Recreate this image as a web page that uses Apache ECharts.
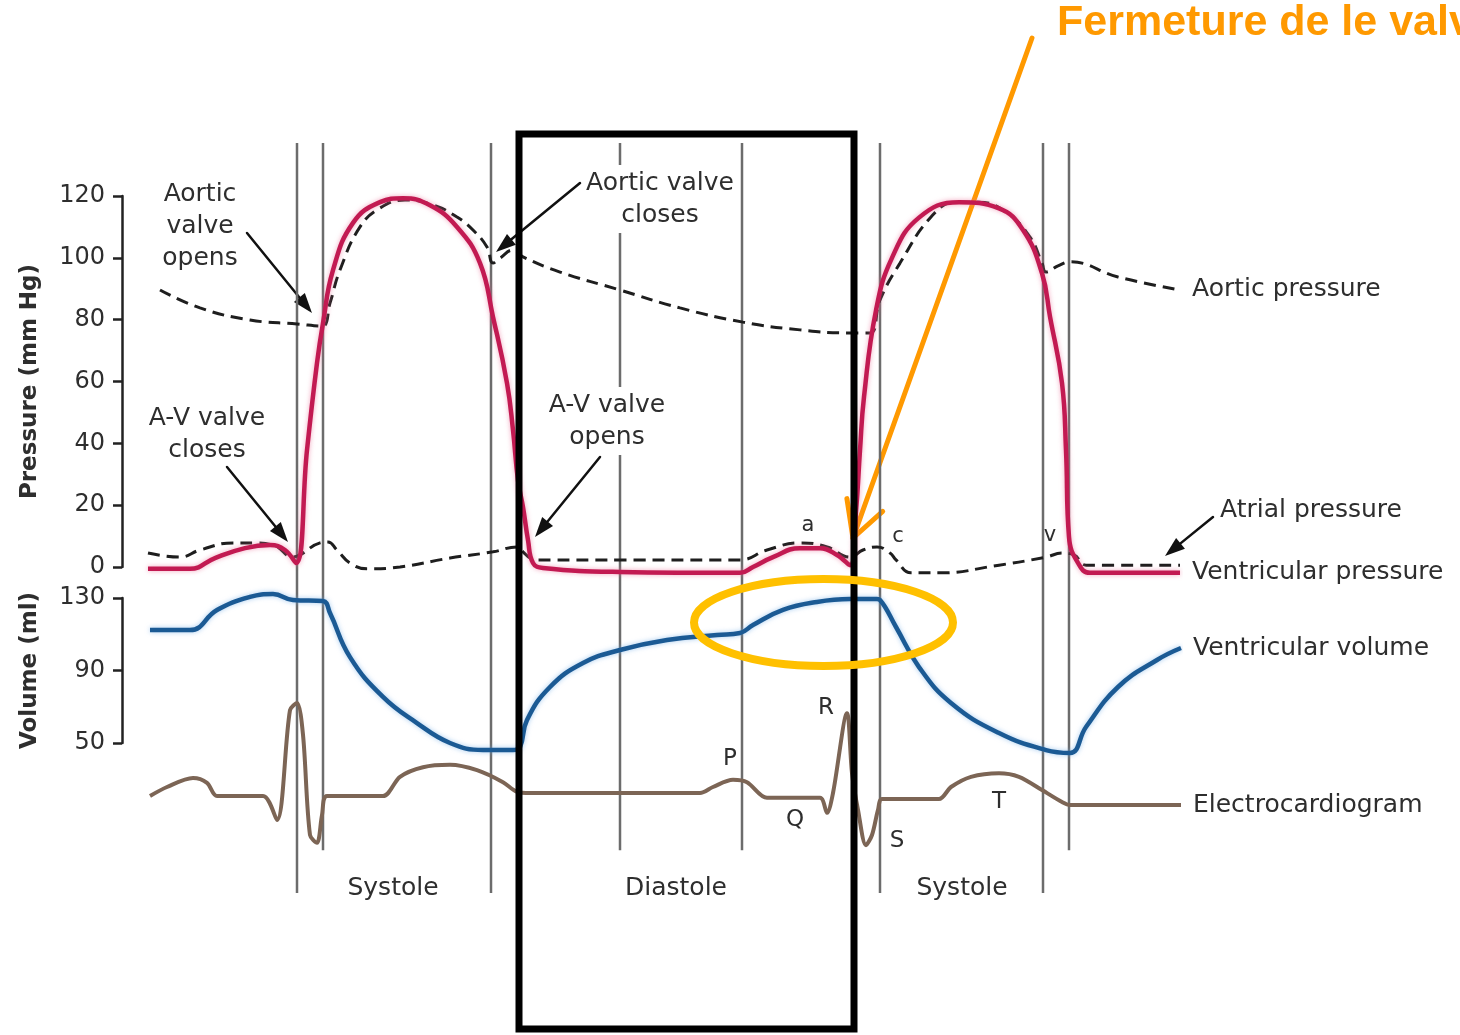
<!DOCTYPE html>
<html>
<head>
<meta charset="utf-8">
<title>Wiggers diagram</title>
<script src="https://cdn.jsdelivr.net/npm/echarts@6/dist/echarts.min.js"></script>
<style>
  html, body { margin: 0; padding: 0; background: #fff; }
  #chart { width: 1460px; height: 1035px; }
</style>
</head>
<body>
<div id="chart"></div>
<script>
// time runs along one shared axis (arbitrary units, two heart beats)

// ventricular pressure (mm Hg)
const ventTime = [148, 190, 215, 245, 270, 285, 296, 307, 317, 323, 333, 353, 380, 403, 430, 457, 480, 493, 507, 513, 518, 523, 528, 533, 543, 620, 740, 753, 773, 800, 820, 837, 850, 856, 860, 864, 876, 892, 919, 959, 999, 1023, 1042, 1050, 1062, 1066, 1069, 1078, 1090, 1180];
const ventPressure = [-0.6, -0.6, 2.9, 6.1, 7.1, 5.5, 1.3, 37.8, 66, 78.9, 96, 111.3, 118, 119.3, 117, 110, 98.3, 80.9, 59.5, 44.3, 28, 19.4, 8.7, 1.3, -0.3, -1.6, -1.9, 0, 3.2, 6.1, 6.1, 3.9, 0.6, 18, 37.8, 55, 83, 100, 113, 118, 116, 109, 95, 81, 59.5, 37.8, 9.7, 1.3, -1.9, -1.9];

// aortic pressure (mm Hg)
const aorticTime = [160, 200, 250, 297, 322, 330, 340, 360, 380, 405, 433, 457, 473, 487, 493, 500, 513, 523, 560, 620, 680, 743, 800, 850, 870, 880, 900, 931, 955, 979, 1007, 1030, 1042, 1046, 1058, 1070, 1118, 1180];
const aorticPressure = [89.6, 83.8, 79.9, 78.6, 77.9, 85.4, 96.1, 110, 116.1, 118.7, 117.1, 113.2, 109, 103.5, 98.3, 99.9, 102.5, 100.3, 95.4, 89.6, 83.8, 79.2, 76.7, 75.7, 75.7, 86.4, 98.3, 113.2, 118, 118, 114.5, 106.7, 98.3, 95.4, 97.4, 98.7, 93.8, 89.6];

// atrial pressure (mm Hg)
const atrialTime = [148, 180, 200, 233, 255, 275, 293, 300, 320, 328, 337, 350, 367, 400, 450, 493, 517, 523, 530, 537, 620, 740, 767, 800, 827, 850, 863, 877, 890, 896, 911, 939, 999, 1046, 1062, 1074, 1086, 1180];
const atrialPressure = [4.5, 3.2, 5.5, 7.8, 7.8, 6.8, 3.2, 3.9, 7.8, 8.1, 5.5, 1.3, -0.6, 0, 2.9, 4.9, 6.5, 4.9, 2.9, 2.3, 2.3, 2.3, 5.5, 7.8, 6.5, 3.2, 5.5, 6.5, 4.5, 2.3, -1.9, -1.9, 0.6, 3.2, 4.5, 3.9, 0.6, 0.6];

// ventricular volume (ml)
const volumeTime = [150, 190, 217, 250, 273, 293, 323, 330, 350, 383, 417, 450, 483, 513, 520, 527, 550, 583, 620, 667, 717, 740, 753, 783, 817, 850, 877, 880, 896, 919, 951, 999, 1046, 1070, 1086, 1118, 1157, 1181];
const ventVolume = [112.3, 112.3, 123.4, 130.6, 132.2, 128.9, 128.3, 121.7, 97.4, 75.4, 61, 50, 46.1, 46.1, 47.8, 62.7, 80.9, 94.1, 101.3, 106.8, 109.6, 110.7, 115.1, 123.4, 127.8, 129.4, 129.4, 128.9, 114, 91.9, 72.1, 55.5, 46.1, 44.5, 58.8, 80.9, 95.8, 102.4];

// electrocardiogram (mV)
const ecgTime = [150, 167, 193, 207, 217, 263, 277, 290, 297, 303, 310, 317, 322, 327, 383, 400, 423, 450, 477, 503, 517, 530, 620, 700, 713, 733, 747, 767, 820, 827, 833, 847, 852, 858, 866, 872, 878, 882, 939, 951, 971, 999, 1019, 1042, 1062, 1070, 1181];
const ecgValue = [0, 0.15, 0.3, 0.22, 0, 0, -0.4, 1.43, 1.55, 1.02, -0.65, -0.78, -0.32, 0, 0, 0.32, 0.48, 0.52, 0.43, 0.23, 0.07, 0.05, 0.05, 0.05, 0.15, 0.27, 0.23, -0.03, -0.03, -0.28, 0.05, 1.38, 0.38, -0.23, -0.82, -0.65, -0.23, -0.05, -0.05, 0.15, 0.32, 0.38, 0.32, 0.1, -0.1, -0.15, -0.15];

// valve events (vertical guides); reach = lower end as a share of the guide band
const eventTime = [297, 323, 491, 620, 742, 880, 1043, 1069];
const eventReach = [0, 0.057, 0, 0.057, 0.057, 0, 0, 0.057];

const pressureTicks = [0, 20, 40, 60, 80, 100, 120];
const volumeTicks = [50, 90, 130];

const FONT = '"DejaVu Sans", "Liberation Sans", Arial, sans-serif';
const TEXT = '#2e2e2e';

function pairs(xs, ys) {
  return xs.map((x, i) => [x, ys[i]]);
}

function grid(top, height) {
  return { left: 122, right: 280, top: top, height: height, outerBoundsMode: 'none' };
}

function hiddenX(gridIndex) {
  return { type: 'value', gridIndex: gridIndex, min: 122, max: 1180, show: false };
}

function curve(name, xi, data, color, width, extra) {
  return Object.assign({
    name: name,
    type: 'line',
    xAxisIndex: xi,
    yAxisIndex: xi,
    data: data,
    showSymbol: false,
    smooth: 0.45,
    clip: false,
    silent: true,
    lineStyle: { color: color, width: width }
  }, extra || {});
}

function endLabel(text) {
  return {
    show: true,
    formatter: text,
    distance: 12,
    color: TEXT,
    fontSize: 25,
    fontFamily: FONT
  };
}

function label(text, x, y, size, opts) {
  return {
    type: 'text',
    x: x,
    y: y,
    z: 100,
    style: Object.assign({
      text: text,
      fill: TEXT,
      font: size + 'px ' + FONT,
      textAlign: 'center',
      textVerticalAlign: 'middle',
      lineHeight: 32
    }, (opts && opts.style) || {})
  };
}

function arrow(x1, y1, x2, y2, color, width, headLen, headWidth, open) {
  const len = Math.hypot(x2 - x1, y2 - y1);
  const ux = (x2 - x1) / len, uy = (y2 - y1) / len;
  const bx = x2 - ux * headLen, by = y2 - uy * headLen;
  const w1 = [bx - uy * headWidth, by + ux * headWidth];
  const w2 = [bx + uy * headWidth, by - ux * headWidth];
  const shaftEnd = open ? [x2, y2] : [bx + ux * 2, by + uy * 2];
  const head = open
    ? { type: 'polyline', shape: { points: [w1, [x2, y2], w2] }, style: { stroke: color, lineWidth: width, fill: null, lineCap: 'round', lineJoin: 'round' } }
    : { type: 'polygon', shape: { points: [w1, [x2, y2], w2] }, style: { fill: color } };
  return {
    type: 'group',
    z: 110,
    children: [
      { type: 'line', shape: { x1: x1, y1: y1, x2: shaftEnd[0], y2: shaftEnd[1] }, style: { stroke: color, lineWidth: width, lineCap: 'round' } },
      head
    ]
  };
}

const eventSeries = eventTime.map((t, i) => ({
  type: 'line',
  xAxisIndex: 3,
  yAxisIndex: 3,
  data: [[t, eventReach[i]], [t, 1]],
  showSymbol: false,
  silent: true,
  z: 1,
  lineStyle: { color: '#6c6c6c', width: 2.5 }
}));

const chart = echarts.init(document.getElementById('chart'));

chart.setOption({
  animation: false,
  backgroundColor: '#fff',
  grid: [grid(196, 371), grid(598, 145), grid(676, 180), grid(143, 750)],
  xAxis: [hiddenX(0), hiddenX(1), hiddenX(2), hiddenX(3)],
  yAxis: [
    {
      type: 'value', gridIndex: 0,
      min: pressureTicks[0], max: pressureTicks[pressureTicks.length - 1], interval: 20,
      name: 'Pressure (mm Hg)', nameLocation: 'middle', nameRotate: 90, nameGap: 80,
      nameTextStyle: { color: TEXT, fontSize: 23, fontWeight: 'bold', fontFamily: FONT },
      axisLine: { show: true, lineStyle: { color: '#222', width: 2.5 } },
      axisTick: { show: true, length: 9, lineStyle: { color: '#222', width: 2.5 } },
      axisLabel: { color: TEXT, fontSize: 24, fontFamily: FONT, margin: 17 },
      splitLine: { show: false }
    },
    {
      type: 'value', gridIndex: 1,
      min: volumeTicks[0], max: volumeTicks[volumeTicks.length - 1], interval: 40,
      name: 'Volume (ml)', nameLocation: 'middle', nameRotate: 90, nameGap: 80,
      nameTextStyle: { color: TEXT, fontSize: 23, fontWeight: 'bold', fontFamily: FONT },
      axisLine: { show: true, lineStyle: { color: '#222', width: 2.5 } },
      axisTick: { show: true, length: 9, lineStyle: { color: '#222', width: 2.5 } },
      axisLabel: { color: TEXT, fontSize: 24, fontFamily: FONT, margin: 17 },
      splitLine: { show: false }
    },
    { type: 'value', gridIndex: 2, min: -1, max: 2, show: false },
    { type: 'value', gridIndex: 3, min: 0, max: 1, show: false }
  ],
  series: eventSeries.concat([
    curve('Aortic pressure', 0, pairs(aorticTime, aorticPressure), '#1e1e1e', 3, {
      z: 3,
      lineStyle: { color: '#1e1e1e', width: 3, type: [12, 7] },
      endLabel: endLabel('Aortic pressure')
    }),
    curve('Atrial pressure', 0, pairs(atrialTime, atrialPressure), '#1e1e1e', 3, {
      z: 3,
      lineStyle: { color: '#1e1e1e', width: 3, type: [12, 7] }
    }),
    curve('Ventricular pressure', 0, pairs(ventTime, ventPressure), '#c21a52', 4.5, {
      z: 4,
      lineStyle: { color: '#c21a52', width: 4.5, shadowColor: 'rgba(235,110,150,0.6)', shadowBlur: 5 },
      endLabel: endLabel('Ventricular pressure')
    }),
    curve('Ventricular volume', 1, pairs(volumeTime, ventVolume), '#1b5a94', 4.5, {
      z: 4,
      lineStyle: { color: '#1b5a94', width: 4.5, shadowColor: 'rgba(110,170,230,0.6)', shadowBlur: 5 },
      endLabel: endLabel('Ventricular volume')
    }),
    curve('Electrocardiogram', 2, pairs(ecgTime, ecgValue), '#7c6555', 4, {
      z: 4,
      smooth: 0.3,
      endLabel: endLabel('Electrocardiogram')
    })
  ]),
  graphic: [
    // annotations
    label('Aortic\nvalve\nopens', 200, 226, 25),
    label('A-V valve\ncloses', 207, 434, 25),
    label('Aortic valve\ncloses', 660, 199, 25, { style: { backgroundColor: '#fff', padding: [2, 4] } }),
    label('A-V valve\nopens', 607, 421, 25, { style: { backgroundColor: '#fff', padding: [2, 4] } }),
    label('Atrial pressure', 1220, 510, 25, { style: { textAlign: 'left' } }),
    label('a', 808, 526, 21),
    label('c', 898, 537, 21),
    label('v', 1050, 536, 21),
    label('R', 826, 708, 23),
    label('P', 730, 759, 23),
    label('Q', 795, 820, 23),
    label('S', 897, 841, 23),
    label('T', 999, 802, 23),
    label('Systole', 393, 888, 25),
    label('Diastole', 676, 888, 25),
    label('Systole', 962, 888, 25),
    arrow(247, 233, 312, 313, '#111', 2.5, 20, 7),
    arrow(227, 467, 288, 542, '#111', 2.5, 20, 7),
    arrow(580, 183, 496, 252, '#111', 2.5, 20, 7),
    arrow(600, 457, 535, 537, '#111', 2.5, 20, 7),
    arrow(1213, 517, 1165, 556, '#111', 2.5, 20, 7),
    // overlay markup
    {
      type: 'rect', z: 120,
      shape: { x: 519, y: 134, width: 335, height: 895 },
      style: { fill: null, stroke: '#000', lineWidth: 7 }
    },
    {
      type: 'ellipse', z: 120,
      shape: { cx: 823.5, cy: 622.5, rx: 129.5, ry: 43.5 },
      style: { fill: null, stroke: '#ffc000', lineWidth: 8 }
    },
    arrow(1032, 38, 853, 538, '#ff9900', 5, 35, 19, true),
    {
      type: 'text', z: 130, x: 1057, y: 23,
      style: {
        text: 'Fermeture de le valve mitrale',
        fill: '#ff9900',
        font: 'bold 43px "Liberation Sans", Arial, sans-serif',
        textAlign: 'left',
        textVerticalAlign: 'middle'
      }
    }
  ]
});
</script>
</body>
</html>
